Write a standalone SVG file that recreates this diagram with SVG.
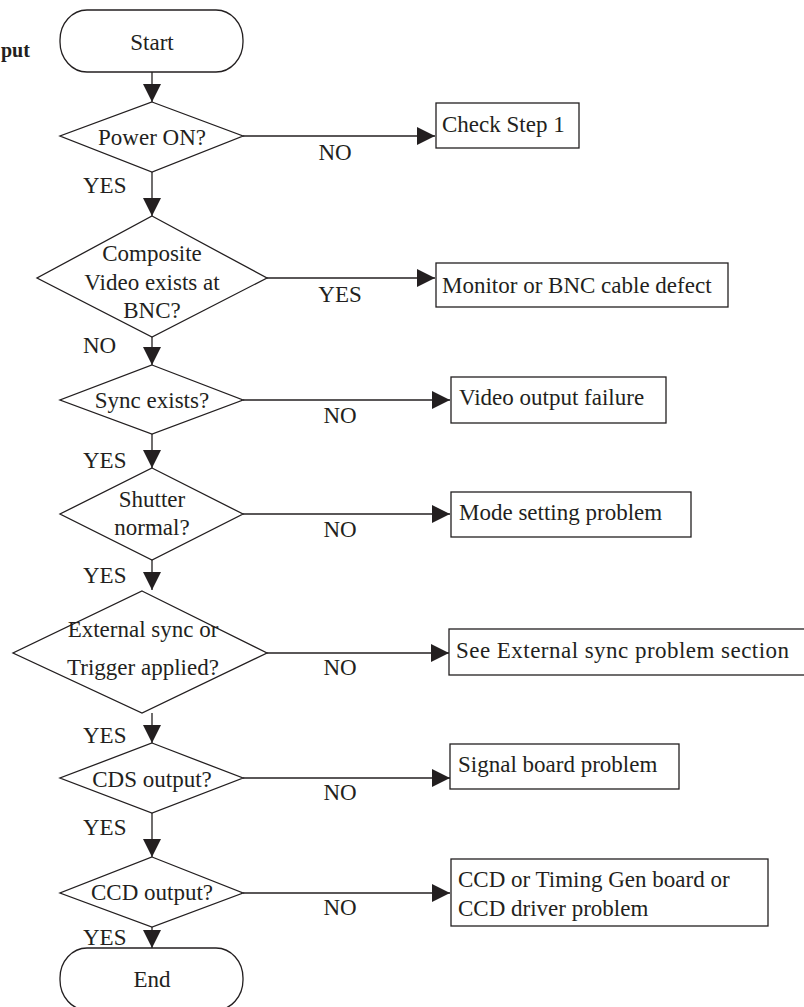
<svg xmlns="http://www.w3.org/2000/svg" width="804" height="1007" viewBox="0 0 804 1007">
<style>
.s{fill:#fff;stroke:#231f20;stroke-width:1.3}
.c{fill:none;stroke:#231f20;stroke-width:1.3}
text{font-family:"Liberation Serif","Times New Roman",serif;font-size:23px;fill:#231f20}
.m{text-anchor:middle}
.b{font-weight:bold;font-size:20px}
</style>
<defs>
<marker id="ah" markerUnits="userSpaceOnUse" markerWidth="19" markerHeight="18" refX="18" refY="9" orient="auto">
<path d="M0,0 L18,9 L0,18 z" fill="#231f20"/>
</marker>
</defs>
<text class="b" x="1" y="57">put</text>
<g id="connectors">
<line class="c" x1="152" y1="72" x2="152" y2="102" marker-end="url(#ah)"/>
<line class="c" x1="243" y1="136" x2="435" y2="136" marker-end="url(#ah)"/>
<text class="m" x="335" y="160">NO</text>
<line class="c" x1="152" y1="172" x2="152" y2="216" marker-end="url(#ah)"/>
<text x="83" y="193">YES</text>
<line class="c" x1="267" y1="278" x2="435" y2="278" marker-end="url(#ah)"/>
<text class="m" x="340" y="302">YES</text>
<line class="c" x1="152" y1="337" x2="152" y2="365" marker-end="url(#ah)"/>
<text x="83" y="353">NO</text>
<line class="c" x1="243" y1="400" x2="450" y2="400" marker-end="url(#ah)"/>
<text class="m" x="340" y="423">NO</text>
<line class="c" x1="152" y1="434" x2="152" y2="468" marker-end="url(#ah)"/>
<text x="83" y="468">YES</text>
<line class="c" x1="243" y1="514" x2="450" y2="514" marker-end="url(#ah)"/>
<text class="m" x="340" y="537">NO</text>
<line class="c" x1="152" y1="560" x2="152" y2="590" marker-end="url(#ah)"/>
<text x="83" y="583">YES</text>
<line class="c" x1="267" y1="653" x2="449" y2="653" marker-end="url(#ah)"/>
<text class="m" x="340" y="675">NO</text>
<line class="c" x1="152" y1="713" x2="152" y2="743" marker-end="url(#ah)"/>
<text x="83" y="743">YES</text>
<line class="c" x1="243" y1="778" x2="450" y2="778" marker-end="url(#ah)"/>
<text class="m" x="340" y="800">NO</text>
<line class="c" x1="152" y1="813" x2="152" y2="857" marker-end="url(#ah)"/>
<text x="83" y="835">YES</text>
<line class="c" x1="243" y1="893" x2="450" y2="893" marker-end="url(#ah)"/>
<text class="m" x="340" y="915">NO</text>
<line class="c" x1="152" y1="927" x2="152" y2="948" marker-end="url(#ah)"/>
<text x="83" y="945">YES</text>
</g>
<g id="start">
<rect class="s" x="60" y="10" width="183" height="62" rx="27" ry="30"/>
<text class="m" x="152" y="50">Start</text>
</g>
<g id="power">
<polygon class="s" points="152,102 243,136 152,172 60,136"/>
<text class="m" x="152" y="145">Power ON?</text>
</g>
<g id="check1">
<rect class="s" x="436" y="103" width="143" height="45"/>
<text x="442" y="132">Check Step 1</text>
</g>
<g id="composite">
<polygon class="s" points="152,216 267,278 152,337 37,278"/>
<text class="m" x="152" y="261">Composite</text>
<text class="m" x="152" y="290">Video exists at</text>
<text class="m" x="152" y="318">BNC?</text>
</g>
<g id="monitor">
<rect class="s" x="436" y="263" width="292" height="44"/>
<text x="442" y="293">Monitor or BNC cable defect</text>
</g>
<g id="sync">
<polygon class="s" points="152,365 243,400 152,434 60,400"/>
<text class="m" x="152" y="408">Sync exists?</text>
</g>
<g id="videofail">
<rect class="s" x="451" y="377" width="215" height="46"/>
<text x="459" y="405">Video output failure</text>
</g>
<g id="shutter">
<polygon class="s" points="152,468 243,514 152,560 60,514"/>
<text class="m" x="152" y="507">Shutter</text>
<text class="m" x="152" y="535">normal?</text>
</g>
<g id="mode">
<rect class="s" x="451" y="492" width="240" height="45"/>
<text x="459" y="520">Mode setting problem</text>
</g>
<g id="external">
<polygon class="s" points="142,591 267,653 142,713 13,653"/>
<text class="m" x="143" y="637">External sync or</text>
<text class="m" x="143" y="675">Trigger applied?</text>
</g>
<g id="extsync">
<rect class="s" x="449" y="629" width="356" height="46"/>
<text x="456" y="658" textLength="333" lengthAdjust="spacing">See External sync problem section</text>
</g>
<g id="cds">
<polygon class="s" points="152,743 243,778 152,813 60,778"/>
<text class="m" x="152" y="787">CDS output?</text>
</g>
<g id="signal">
<rect class="s" x="450" y="744" width="229" height="45"/>
<text x="458" y="772">Signal board problem</text>
</g>
<g id="ccd">
<polygon class="s" points="152,857 243,893 152,927 60,893"/>
<text class="m" x="152" y="900">CCD output?</text>
</g>
<g id="ccdprob">
<rect class="s" x="451" y="859" width="317" height="67"/>
<text x="458" y="887">CCD or Timing Gen board or</text>
<text x="458" y="916">CCD driver problem</text>
</g>
<g id="end">
<rect class="s" x="60" y="948" width="183" height="62" rx="27" ry="30"/>
<text class="m" x="152" y="987">End</text>
</g>
</svg>
